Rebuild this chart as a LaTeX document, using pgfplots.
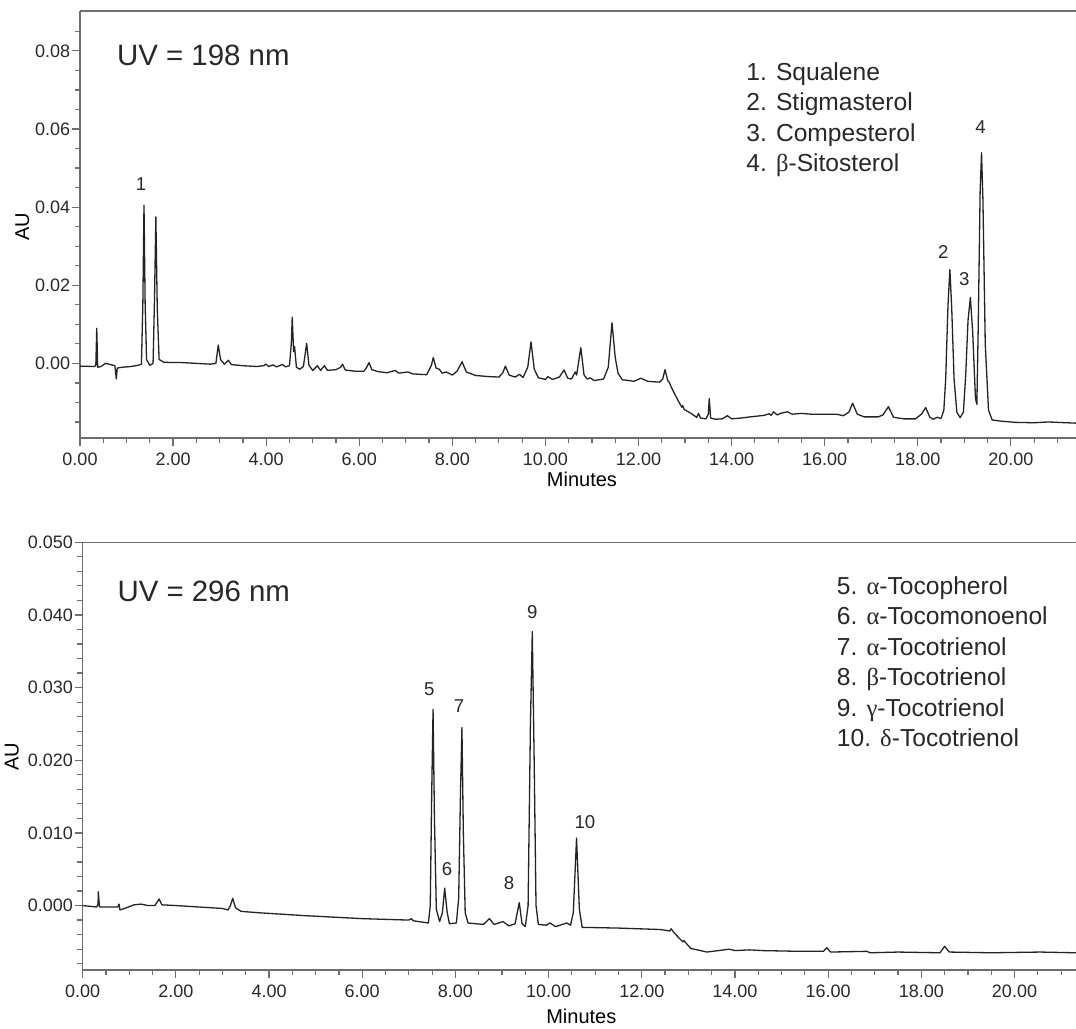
\documentclass[border=0pt]{standalone}
\usepackage{fontspec}
\setmainfont{Liberation Sans}
\newfontfamily\grk{Liberation Serif}
\usepackage{pgfplots}
\pgfplotsset{compat=1.18}

\definecolor{axgray}{RGB}{110,110,110}
\definecolor{txt}{RGB}{40,40,40}
\definecolor{trace}{RGB}{35,35,35}

\pgfplotsset{
  chrom/.style={
    scale only axis,
    axis x line=box, axis y line=left,
    x axis line style={-}, y axis line style={-},
    axis line style={axgray, line width=0.75pt},
    tick style={axgray, line width=0.6pt},
    tick align=outside,
    major tick length=4pt, minor tick length=2.6pt,
    xtick pos=bottom, ytick pos=left,
    xtick={0,2,4,6,8,10,12,14,16,18,20},
    minor xtick={0.5,1,...,21},
    scaled x ticks=false, scaled y ticks=false,
    ticklabel style={font=\fontsize{9}{10}\selectfont, text=txt},
    xticklabel style={/pgf/number format/.cd, fixed, fixed zerofill, precision=2},
    /pgf/number format/assume math mode=true,
    label style={font=\fontsize{9}{10}\selectfont, text=txt},
    clip=true,
  },
}
\tikzset{
  lbl/.style={font=\fontsize{9.3}{11}\selectfont, text=txt, anchor=base, inner sep=0pt},
  leg/.style={font=\fontsize{12.3}{14}\selectfont, text=txt, anchor=base west, inner sep=0pt},
  uv/.style={font=\fontsize{14.7}{17}\selectfont, text=txt, anchor=base west, inner sep=0pt},
}

\begin{document}
\begin{tikzpicture}
\useasboundingbox (0,0) rectangle (538pt,514pt);

% ---------------- top: UV 198 nm ----------------
\begin{axis}[chrom,
  at={(40pt,295pt)}, anchor=south west,
  width=498pt, height=213.5pt,
  xmin=0, xmax=21.4, ymin=-0.0191, ymax=0.0902,
  ytick={0,0.02,0.04,0.06,0.08},
  minor ytick={-0.015,-0.01,-0.005,0.005,0.01,0.015,0.025,0.03,0.035,0.045,0.05,0.055,0.065,0.07,0.075,0.085},
  yticklabel style={inner xsep=0.7pt, /pgf/number format/.cd, fixed, fixed zerofill, precision=2},
  xlabel={Minutes}, ylabel={AU},
  every axis x label/.style={at={(axis description cs:0.504,-0.098)}, anchor=center},
  every axis y label/.style={at={(axis description cs:-0.058,0.494)}, anchor=center, rotate=90},
]
\addplot[trace, line width=0.65pt, line join=round] coordinates {
(0.00,-0.0007) (0.30,-0.0008) (0.34,-0.0006) (0.36,0.0090) (0.38,-0.0010)
(0.45,-0.0008) (0.55,0.0000) (0.62,-0.0002) (0.75,-0.0006) (0.78,-0.0040)
(0.80,-0.0012) (0.90,-0.0010) (1.10,-0.0008) (1.25,-0.0005) (1.32,-0.0002)
(1.35,0.0150) (1.375,0.0405) (1.40,0.0150) (1.43,0.0010) (1.50,-0.0005)
(1.57,0.0000) (1.60,0.0160) (1.63,0.0375) (1.66,0.0140) (1.70,0.0010)
(1.80,0.0003) (2.00,0.0002) (2.20,0.0002) (2.50,0.0000) (2.80,-0.0002)
(2.92,0.0000) (2.97,0.0047) (3.02,0.0010) (3.10,-0.0002) (3.19,0.0008)
(3.25,-0.0003) (3.50,-0.0006) (3.80,-0.0008) (3.95,-0.0006) (4.00,-0.0002)
(4.05,-0.0008) (4.15,-0.0004) (4.22,-0.0009) (4.35,-0.0003) (4.42,-0.0009)
(4.50,-0.0006) (4.54,0.0050) (4.56,0.0118) (4.59,0.0030) (4.61,0.0043)
(4.65,-0.0010) (4.72,-0.0015) (4.80,-0.0008) (4.87,0.0051) (4.92,-0.0005)
(5.00,-0.0018) (5.10,-0.0006) (5.17,-0.0018) (5.25,-0.0006) (5.32,-0.0018)
(5.50,-0.0016) (5.60,-0.0010) (5.64,-0.0002) (5.70,-0.0017) (5.90,-0.0020)
(6.10,-0.0020) (6.16,-0.0010) (6.21,0.0002) (6.27,-0.0016) (6.40,-0.0021)
(6.60,-0.0024) (6.77,-0.0018) (6.85,-0.0025) (7.05,-0.0022) (7.15,-0.0027)
(7.45,-0.0029) (7.55,-0.0005) (7.59,0.0015) (7.65,-0.0012) (7.72,-0.0015)
(7.78,-0.0025) (7.87,-0.0022) (8.00,-0.0030) (8.10,-0.0020) (8.21,0.0004)
(8.30,-0.0022) (8.50,-0.0031) (8.80,-0.0034) (9.00,-0.0035) (9.08,-0.0025)
(9.14,-0.0007) (9.22,-0.0030) (9.35,-0.0035) (9.44,-0.0028) (9.52,-0.0036)
(9.62,-0.0010) (9.69,0.0055) (9.76,-0.0015) (9.85,-0.0037) (10.00,-0.0041)
(10.05,-0.0034) (10.15,-0.0041) (10.30,-0.0035) (10.40,-0.0017) (10.48,-0.0038)
(10.56,-0.0040) (10.64,-0.0022) (10.67,-0.0030) (10.76,0.0040) (10.83,-0.0030)
(10.90,-0.0040) (10.96,-0.0037) (11.05,-0.0044) (11.25,-0.0040) (11.35,-0.0010)
(11.43,0.0104) (11.50,0.0015) (11.56,-0.0025) (11.65,-0.0042) (11.80,-0.0044)
(11.90,-0.0046) (12.05,-0.0038) (12.20,-0.0046) (12.45,-0.0048) (12.52,-0.0040)
(12.57,-0.0016) (12.63,-0.0045) (12.66,-0.0048) (12.70,-0.0060) (12.75,-0.0072)
(12.85,-0.0095) (12.93,-0.0112) (12.95,-0.0108) (12.98,-0.0118) (13.10,-0.0126)
(13.25,-0.0138) (13.29,-0.0128) (13.33,-0.0140) (13.45,-0.0142) (13.50,-0.0130)
(13.52,-0.0090) (13.55,-0.0140) (13.65,-0.0143) (13.80,-0.0142) (13.91,-0.0134)
(14.00,-0.0142) (14.20,-0.0140) (14.40,-0.0137) (14.70,-0.0133) (14.81,-0.0129)
(14.85,-0.0133) (14.90,-0.0124) (14.98,-0.0132) (15.05,-0.0128) (15.12,-0.0126)
(15.20,-0.0124) (15.30,-0.0130) (15.50,-0.0128) (15.70,-0.0130) (16.00,-0.0130)
(16.25,-0.0130) (16.40,-0.0134) (16.52,-0.0125) (16.60,-0.0102) (16.70,-0.0130)
(16.85,-0.0137) (17.15,-0.0137) (17.25,-0.0132) (17.37,-0.0111) (17.48,-0.0138)
(17.70,-0.0142) (17.95,-0.0142) (18.08,-0.0130) (18.17,-0.0113) (18.26,-0.0138)
(18.33,-0.0143) (18.42,-0.0138) (18.50,-0.0141) (18.56,-0.0120) (18.60,-0.0040)
(18.65,0.0150) (18.69,0.0240) (18.73,0.0140) (18.78,-0.0040) (18.84,-0.0125)
(18.91,-0.0139) (18.98,-0.0125) (19.03,-0.0030) (19.08,0.0110) (19.13,0.0169)
(19.18,0.0080) (19.24,-0.0090) (19.27,-0.0105) (19.30,0.0100) (19.34,0.0440)
(19.37,0.0539) (19.40,0.0420) (19.45,0.0050) (19.52,-0.0120) (19.60,-0.0145)
(19.80,-0.0148) (20.10,-0.0151) (20.50,-0.0152) (20.80,-0.0150) (21.40,-0.0153)
};
\node[uv] at (axis cs:0.79,0.0763) {UV = 198 nm};
\node[leg] at (axis cs:14.31,0.0725) {1. Squalene};
\node[leg] at (axis cs:14.31,0.0648) {2. Stigmasterol};
\node[leg] at (axis cs:14.31,0.0569) {3. Compesterol};
\node[leg] at (axis cs:14.31,0.0490) {4. {\grk β}-Sitosterol};
\node[lbl] at (axis cs:1.31,0.0443) {1};
\node[lbl] at (axis cs:18.55,0.0269) {2};
\node[lbl] at (axis cs:19.00,0.0200) {3};
\node[lbl] at (axis cs:19.35,0.0589) {4};
\end{axis}

% ---------------- bottom: UV 296 nm ----------------
\begin{axis}[chrom,
  at={(41.35pt,29pt)}, anchor=south west,
  width=496.65pt, height=213.85pt,
  xmin=0, xmax=21.32, ymin=-0.00887, ymax=0.0500,
  ytick={0,0.01,0.02,0.03,0.04,0.05},
  minor ytick={-0.008,-0.006,-0.004,-0.002,0.002,0.004,0.006,0.008,0.012,0.014,0.016,0.018,0.022,0.024,0.026,0.028,0.032,0.034,0.036,0.038,0.042,0.044,0.046,0.048},
  yticklabel style={inner xsep=0.7pt, /pgf/number format/.cd, fixed, fixed zerofill, precision=3},
  xlabel={Minutes}, ylabel={AU},
  every axis x label/.style={at={(axis description cs:0.502,-0.109)}, anchor=center},
  every axis y label/.style={at={(axis description cs:-0.0713,0.498)}, anchor=center, rotate=90},
]
\addplot[trace, line width=0.65pt, line join=round] coordinates {
(0.00,0.0000) (0.30,-0.0002) (0.33,0.0002) (0.335,0.0019) (0.36,-0.0002)
(0.50,-0.0002) (0.75,-0.0002) (0.78,0.0002) (0.80,-0.0006) (0.90,-0.0004)
(1.10,0.0001) (1.25,0.0002) (1.40,0.0000) (1.55,0.0000) (1.64,0.0009)
(1.70,0.0001) (2.00,0.0000) (2.50,-0.0002) (3.00,-0.0004) (3.12,-0.0006)
(3.17,0.0000) (3.22,0.0010) (3.28,-0.0003) (3.40,-0.0008) (3.80,-0.0010)
(4.30,-0.0012) (4.80,-0.0014) (5.40,-0.0016) (6.00,-0.0018) (6.50,-0.0019)
(7.00,-0.0020) (7.05,-0.0018) (7.10,-0.0021) (7.42,-0.0024) (7.46,0.0000)
(7.49,0.0150) (7.52,0.0270) (7.55,0.0120) (7.59,-0.0005) (7.66,-0.0022)
(7.72,-0.0010) (7.77,0.0024) (7.82,-0.0008) (7.87,-0.0025) (8.02,-0.0024)
(8.07,0.0010) (8.11,0.0160) (8.14,0.0245) (8.17,0.0100) (8.21,-0.0010)
(8.27,-0.0024) (8.60,-0.0026) (8.73,-0.0018) (8.83,-0.0026) (9.02,-0.0022)
(9.15,-0.0028) (9.28,-0.0025) (9.37,0.0004) (9.43,-0.0025) (9.50,-0.0029)
(9.56,0.0000) (9.61,0.0250) (9.65,0.0377) (9.69,0.0200) (9.73,0.0000)
(9.78,-0.0026) (9.95,-0.0027) (10.03,-0.0024) (10.15,-0.0029) (10.39,-0.0024)
(10.47,-0.0027) (10.53,-0.0010) (10.60,0.0093) (10.66,-0.0005) (10.72,-0.0030)
(11.50,-0.0031) (12.40,-0.0033) (12.60,-0.0035) (12.63,-0.0032) (12.70,-0.0038)
(12.88,-0.0050) (12.90,-0.0048) (13.05,-0.0059) (13.40,-0.0064) (13.88,-0.0060)
(14.00,-0.0062) (14.31,-0.0061) (14.60,-0.0062) (15.38,-0.0063) (15.90,-0.0063)
(15.97,-0.0058) (16.05,-0.0064) (16.83,-0.0063) (16.90,-0.0065) (17.50,-0.0064)
(18.40,-0.0065) (18.50,-0.0056) (18.60,-0.0064) (19.50,-0.0065) (20.55,-0.0064)
(21.32,-0.0065)
};
\node[uv] at (axis cs:0.74,0.0418) {UV = 296 nm};
\node[leg] at (axis cs:16.18,0.04287) {5. {\grk α}-Tocopherol};
\node[leg] at (axis cs:16.18,0.03868) {6. {\grk α}-Tocomonoenol};
\node[leg] at (axis cs:16.18,0.03448) {7. {\grk α}-Tocotrienol};
\node[leg] at (axis cs:16.18,0.03029) {8. {\grk β}-Tocotrienol};
\node[leg] at (axis cs:16.18,0.02609) {9. {\grk γ}-Tocotrienol};
\node[leg] at (axis cs:16.18,0.02190) {10. {\grk δ}-Tocotrienol};
\node[lbl] at (axis cs:7.44,0.02893) {5};
\node[lbl] at (axis cs:7.82,0.0041) {6};
\node[lbl] at (axis cs:8.08,0.02654) {7};
\node[lbl] at (axis cs:9.15,0.00217) {8};
\node[lbl] at (axis cs:9.65,0.03951) {9};
\node[lbl] at (axis cs:10.78,0.01054) {10};
\end{axis}
\end{tikzpicture}
\end{document}
